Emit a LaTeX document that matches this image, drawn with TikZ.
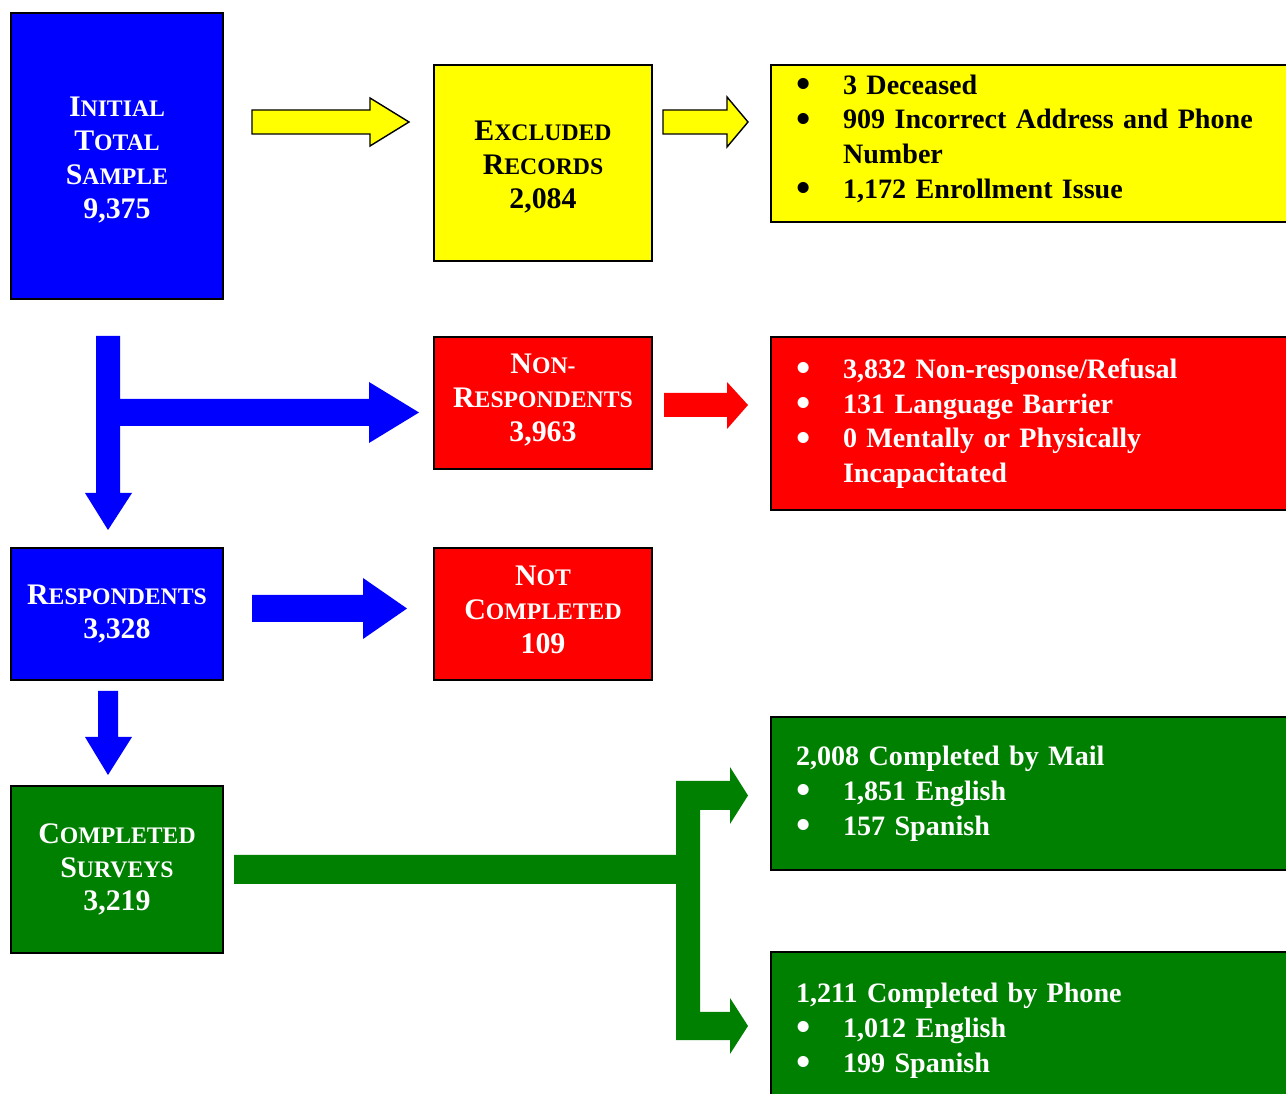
\documentclass[tikz,border=0pt]{standalone}
\usepackage{fontspec}
\setmainfont{Liberation Serif}
\usepackage{xcolor}
\usepackage{tikz}

\definecolor{fblue}{RGB}{0,0,255}
\definecolor{fyellow}{RGB}{255,255,0}
\definecolor{fred}{RGB}{255,0,0}
\definecolor{fgreen}{RGB}{0,128,0}

% big first letter, small capitals after it
\newcommand{\scw}[2]{{\fontsize{17}{19.3}\selectfont #1}{\fontsize{13.5}{19.3}\selectfont #2}}
\newcommand{\bul}{\makebox[0.94cm][l]{\smash{\raisebox{-0.25ex}{\scalebox{1.45}{\textbullet}}}}}
\newcommand{\ind}{\hspace*{0.94cm}}

\begin{document}
\begin{tikzpicture}[x=0.02cm,y=-0.02cm,
  box/.style={draw=black, line width=1.1pt, rectangle, inner sep=0pt, align=center,
    font=\bfseries\fontsize{17}{19.3}\selectfont},
  lst/.style={draw=black, line width=1.1pt, rectangle, inner xsep=0.5cm, inner ysep=0pt,
    text width=9.42cm, align=left, font=\bfseries\fontsize{16}{19.8}\selectfont},
  small/.style={minimum width=4.24cm},
  wide/.style={minimum width=4.36cm}]
\useasboundingbox (0,0) rectangle (1286,1094);

    % left column
    \node[box, small, minimum height=5.72cm, fill=fblue, text=white] (init) at (117,156)
        {\rule{0pt}{16pt}\scw{I}{NITIAL}\\\scw{T}{OTAL}\\\scw{S}{AMPLE}\\9,375};
    \node[box, small, minimum height=2.64cm, fill=fblue, text=white] (resp) at (117,614)
        {\scw{R}{ESPONDENTS}\\3,328};
    \node[box, small, minimum height=3.34cm, fill=fgreen, text=white] (comp) at (117,869.5)
        {\scw{C}{OMPLETED}\\\scw{S}{URVEYS}\\3,219};

    % middle column
    \node[box, wide, minimum height=3.92cm, fill=fyellow] (excl) at (543,163)
        {\rule{0pt}{15.5pt}\scw{E}{XCLUDED}\\\scw{R}{ECORDS}\\2,084};
    \node[box, wide, minimum height=2.64cm, fill=fred, text=white] (nonresp) at (543,403)
        {\scw{N}{ON-}\\\scw{R}{ESPONDENTS}\\3,963\rule[-6pt]{0pt}{6pt}};
    \node[box, wide, minimum height=2.64cm, fill=fred, text=white] (notcomp) at (543,614)
        {\scw{N}{OT}\\\scw{C}{OMPLETED}\\109\rule[-5pt]{0pt}{5pt}};

    % right column
    \node[lst, minimum height=3.14cm, fill=fyellow] (exlist) at (1031.5,143.5)
        {\bul 3 Deceased\\\bul 909 Incorrect Address and Phone\\\ind Number\\\bul 1,172 Enrollment Issue\rule[-8pt]{0pt}{8pt}};
    \node[lst, minimum height=3.46cm, fill=fred, text=white] (nrlist) at (1031.5,423.5)
        {\bul 3,832 Non-response/Refusal\\\bul 131 Language Barrier\\\bul 0 Mentally or Physically\\\ind Incapacitated};
    \node[lst, minimum height=3.06cm, fill=fgreen, text=white] (mail) at (1031.5,793.5)
        {2,008 Completed by Mail\\\bul 1,851 English\\\bul 157 Spanish};
    \node[lst, minimum height=3.16cm, fill=fgreen, text=white] (phone) at (1031.5,1031)
        {1,211 Completed by Phone\\\bul 1,012 English\\\bul 199 Spanish};

    % block arrows
    \filldraw[fill=fyellow, draw=black, line width=0.8pt] (252,110) -- (370,110) -- (370,98) -- (409,122)
        -- (370,146) -- (370,134) -- (252,134) -- cycle;
    \filldraw[fill=fyellow, draw=black, line width=0.8pt] (663,110) -- (727,110) -- (727,97) -- (748,122)
        -- (727,147) -- (727,134) -- (663,134) -- cycle;
    \fill[fblue] (96,336) -- (120,336) -- (120,399) -- (369,399) -- (369,382) -- (419,412.5)
        -- (369,443) -- (369,426) -- (120,426) -- (120,493) -- (132,493) -- (108,530)
        -- (85,493) -- (96,493) -- cycle;
    \fill[fred] (664,393) -- (727,393) -- (727,382) -- (748,405) -- (727,429) -- (727,417)
        -- (664,417) -- cycle;
    \fill[fblue] (252,595) -- (363,595) -- (363,578) -- (407,608.5) -- (363,639) -- (363,622)
        -- (252,622) -- cycle;
    \fill[fblue] (98,691) -- (118,691) -- (118,737) -- (132,737) -- (108,775) -- (85,737)
        -- (98,737) -- cycle;
    \fill[fgreen] (234,855) -- (676,855) -- (676,781) -- (730,781) -- (730,767) -- (748,795.5)
        -- (730,824) -- (730,810) -- (700,810) -- (700,1012) -- (730,1012) -- (730,998)
        -- (748,1026) -- (730,1054) -- (730,1040) -- (676,1040) -- (676,884) -- (234,884) -- cycle;

\end{tikzpicture}
\end{document}
